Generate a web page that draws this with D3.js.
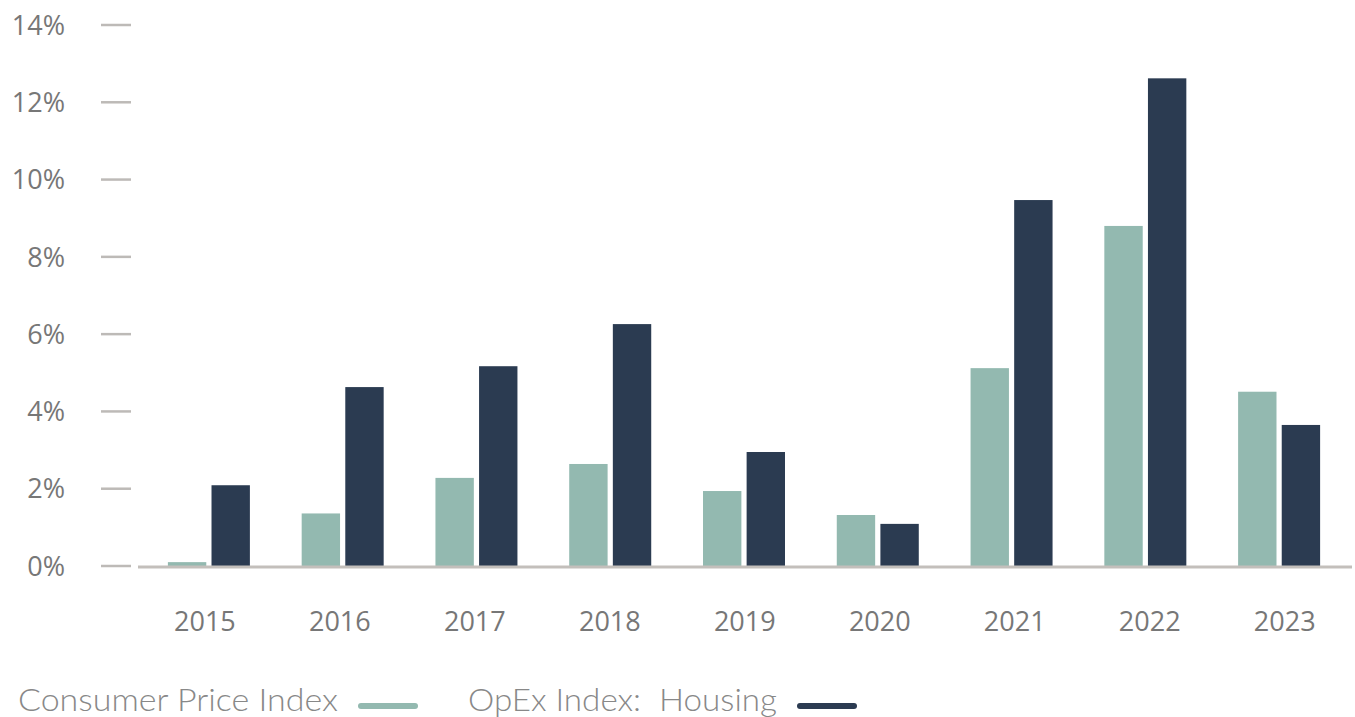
<!DOCTYPE html>
<html>
<head>
<meta charset="utf-8">
<script src="https://cdn.jsdelivr.net/npm/d3@7"></script>
<style>
  body { margin: 0; background: #fff; }
  svg { display: block; }
</style>
</head>
<body>
<div id="chart"></div>
<script>
var years = ["2015", "2016", "2017", "2018", "2019", "2020", "2021", "2022", "2023"]
var seriesNames = ["Consumer Price Index", "OpEx Index:  Housing"]
var cpi = [0.1, 1.36, 2.28, 2.64, 1.94, 1.32, 5.12, 8.8, 4.51]
var opex = [2.09, 4.63, 5.17, 6.26, 2.95, 1.09, 9.47, 12.62, 3.65]
var yTicks = [0, 2, 4, 6, 8, 10, 12, 14]
var colors = ["#93b9b0", "#2b3b51"]

var width = 1355, height = 717

var svg = d3.select("#chart").append("svg")
    .attr("width", width)
    .attr("height", height)

var y = d3.scaleLinear()
    .domain([0, 14])
    .range([566, 25])

var x0 = d3.scaleBand()
    .domain(years)
    .range([142, 1346])
    .paddingInner(0)
    .paddingOuter(0)

var x1 = d3.scaleBand()
    .domain([0, 1])
    .range([x0.bandwidth() / 2 - 41, x0.bandwidth() / 2 + 41])
    .paddingInner(0.12)

// y axis: little dashes and labels
var yAxis = svg.append("g")
yAxis.selectAll("line")
  .data(yTicks)
  .join("line")
    .attr("x1", 101)
    .attr("x2", 131)
    .attr("y1", d => y(d))
    .attr("y2", d => y(d))
    .attr("stroke", "#bdbab7")
    .attr("stroke-width", 2.5)

yAxis.selectAll("text")
  .data(yTicks)
  .join("text")
    .attr("x", 65)
    .attr("y", d => y(d))
    .attr("dy", "0.36em")
    .attr("text-anchor", "end")
    .attr("font-family", "Open Sans")
    .attr("font-size", 27)
    .attr("fill", "#777")
    .text(d => d + "%")

// bars
var rows = years.map((yr, i) => ({year: yr, values: [cpi[i], opex[i]]}))

svg.append("g")
  .selectAll("g")
  .data(rows)
  .join("g")
    .attr("transform", d => "translate(" + x0(d.year) + ",0)")
  .selectAll("rect")
  .data(d => d.values.map((v, k) => ({k: k, v: v})))
  .join("rect")
    .attr("x", d => x1(d.k))
    .attr("width", x1.bandwidth())
    .attr("y", d => y(d.v))
    .attr("height", d => y(0) - y(d.v))
    .attr("fill", d => colors[d.k])

// baseline
svg.append("line")
    .attr("x1", 138)
    .attr("x2", 1352)
    .attr("y1", y(0) + 1)
    .attr("y2", y(0) + 1)
    .attr("stroke", "#c3bfbb")
    .attr("stroke-width", 3)

// year labels
svg.append("g")
  .selectAll("text")
  .data(years)
  .join("text")
    .attr("x", (d, i) => x0(d) + x0.bandwidth() / 2 - 4 + i * 1.2)
    .attr("y", 631)
    .attr("text-anchor", "middle")
    .attr("font-family", "Open Sans")
    .attr("font-size", 27)
    .attr("fill", "#777")
    .text(d => d)

// legend (widths)
var legendWidths = [320, 309]
var legend = svg.append("g")
var lx = 18
seriesNames.forEach(function(name, k) {
  legend.append("text")
      .attr("x", lx)
      .attr("y", 711)
      .attr("font-family", "Lato")
      .attr("font-weight", 300)
      .attr("font-size", 31)
      .attr("fill", "#888")
      .attr("textLength", legendWidths[k])
      .attr("lengthAdjust", "spacingAndGlyphs")
      .style("white-space", "pre")
      .text(name)
  var w = legendWidths[k]
  legend.append("line")
      .attr("x1", lx + w + 23)
      .attr("x2", lx + w + 77)
      .attr("y1", 706)
      .attr("y2", 706)
      .attr("stroke", colors[k])
      .attr("stroke-width", 6)
      .attr("stroke-linecap", "round")
  lx = lx + w + 130
})
</script>
</body>
</html>
